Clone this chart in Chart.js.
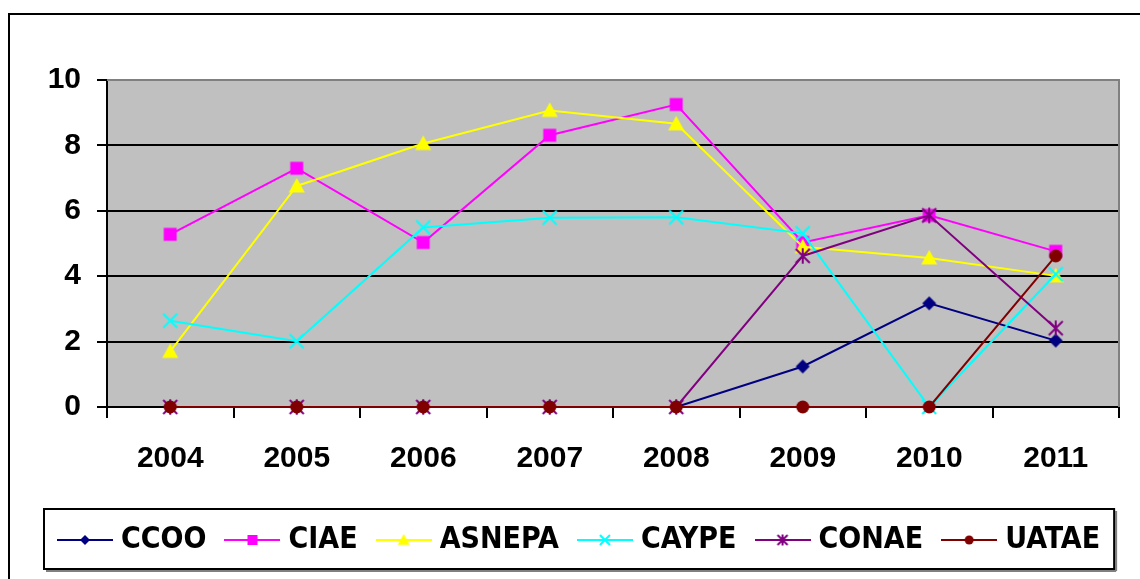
<!DOCTYPE html>
<html>
<head>
<meta charset="utf-8">
<script src="https://cdn.jsdelivr.net/npm/chart.js@4/dist/chart.umd.min.js"></script>
<style>
  html, body { margin: 0; padding: 0; background: #fff; }
  #wrap { position: relative; width: 1140px; height: 579px; }
</style>
</head>
<body>
<div id="wrap"><canvas id="chart"></canvas></div>
<script>
// datos
const years = ['2004', '2005', '2006', '2007', '2008', '2009', '2010', '2011'];
const ccoo = [0, 0, 0, 0, 0, 1.24, 3.17, 2.03];
const ciae = [5.28, 7.30, 5.03, 8.31, 9.25, 5.03, 5.86, 4.76];
const asnepa = [1.70, 6.76, 8.06, 9.07, 8.66, 4.90, 4.56, 4.01];
const caype = [2.64, 2.01, 5.49, 5.79, 5.80, 5.31, 0, 4.06];
const conae = [0, 0, 0, 0, 0, 4.62, 5.86, 2.41];
const uatae = [0, 0, 0, 0, 0, 0, 0, 4.62];
const yTicks = [0, 2, 4, 6, 8, 10];

const FONT = "'Liberation Sans', Arial, sans-serif";
const LEGEND_FONT = "'DejaVu Sans Condensed', 'DejaVu Sans', sans-serif";

// dibuja un marcador tipo Excel
function drawMarker(ctx, shape, cx, cy, r, color) {
  ctx.fillStyle = color;
  ctx.strokeStyle = color;
  ctx.lineWidth = 2;
  ctx.beginPath();
  switch (shape) {
    case 'diamond':
      ctx.moveTo(cx, cy - r); ctx.lineTo(cx + r, cy); ctx.lineTo(cx, cy + r); ctx.lineTo(cx - r, cy);
      ctx.closePath(); ctx.fill();
      break;
    case 'square':
      ctx.fillRect(cx - r, cy - r, 2 * r, 2 * r);
      break;
    case 'triangle':
      ctx.moveTo(cx, cy - r); ctx.lineTo(cx + r, cy + r * 0.8); ctx.lineTo(cx - r, cy + r * 0.8);
      ctx.closePath(); ctx.fill();
      break;
    case 'x':
      ctx.moveTo(cx - r, cy - r); ctx.lineTo(cx + r, cy + r);
      ctx.moveTo(cx + r, cy - r); ctx.lineTo(cx - r, cy + r);
      ctx.stroke();
      break;
    case 'asterisk':
      ctx.moveTo(cx - r, cy - r); ctx.lineTo(cx + r, cy + r);
      ctx.moveTo(cx + r, cy - r); ctx.lineTo(cx - r, cy + r);
      ctx.moveTo(cx, cy - r * 1.1); ctx.lineTo(cx, cy + r * 1.1);
      ctx.stroke();
      break;
    case 'circle':
      ctx.arc(cx, cy, r, 0, Math.PI * 2); ctx.fill();
      break;
  }
}

function markerImage(shape, color, r) {
  const c = document.createElement('canvas');
  c.width = 22; c.height = 22;
  drawMarker(c.getContext('2d'), shape, 11, 11, r, color);
  return c;
}

function legendImage(shape, color, r) {
  const c = document.createElement('canvas');
  c.width = 56; c.height = 20;
  const ctx = c.getContext('2d');
  ctx.strokeStyle = color;
  ctx.lineWidth = 2;
  ctx.beginPath(); ctx.moveTo(0, 10); ctx.lineTo(56, 10); ctx.stroke();
  drawMarker(ctx, shape, 28, 10, r, color);
  return c;
}

const series = [
  { label: 'CCOO', data: ccoo, color: '#000080', shape: 'diamond', r: 7, lr: 5 },
  { label: 'CIAE', data: ciae, color: '#FF00FF', shape: 'square', r: 6.5, lr: 5 },
  { label: 'ASNEPA', data: asnepa, color: '#FFFF00', shape: 'triangle', r: 8, lr: 6 },
  { label: 'CAYPE', data: caype, color: '#00FFFF', shape: 'x', r: 7, lr: 5 },
  { label: 'CONAE', data: conae, color: '#800080', shape: 'asterisk', r: 7, lr: 5 },
  { label: 'UATAE', data: uatae, color: '#800000', shape: 'circle', r: 6.5, lr: 4.5 }
];

const legendImgs = series.map(s => legendImage(s.shape, s.color, s.lr));

const datasets = series.map((s, i) => ({
  label: s.label,
  data: s.data,
  borderColor: s.color,
  backgroundColor: s.color,
  borderWidth: 2,
  pointStyle: markerImage(s.shape, s.color, s.r),
  pointRadius: 7,
  tension: 0,
  clip: false,
  order: series.length - i
}));

const LEGEND_PAD = 25;
const LEGEND_BOX = 42;
const LEGEND_SIZE = 30;
const LEGEND_FIRST_X = 64;

function legendRow(lg) {
  const start = (lg.left + LEGEND_PAD + lg.right - lg.lineWidths[0]) / 2;
  return { start: start, end: start + lg.lineWidths[0] - LEGEND_PAD };
}

const excelPlugin = {
  id: 'excelLook',
  afterLayout(chart) {
    const lg = chart.legend;
    const shift = LEGEND_FIRST_X - legendRow(lg).start;
    lg.left += shift;
    lg.right += shift;
  },
  beforeDraw(chart) {
    const { ctx, chartArea: a } = chart;
    ctx.save();
    ctx.fillStyle = '#C0C0C0';
    ctx.fillRect(a.left, a.top, a.right - a.left, a.bottom - a.top);
    ctx.restore();
  },
  beforeDatasetsDraw(chart) {
    const { ctx, chartArea: a } = chart;
    ctx.save();
    ctx.strokeStyle = '#808080';
    ctx.lineWidth = 2;
    ctx.beginPath();
    ctx.moveTo(a.left, a.top); ctx.lineTo(a.right, a.top); ctx.lineTo(a.right, a.bottom);
    ctx.stroke();
    ctx.restore();
  },
  afterDraw(chart) {
    const { ctx } = chart;
    const lg = chart.legend;
    ctx.save();
    // marco exterior
    ctx.fillStyle = '#000';
    ctx.fillRect(8, 13, chart.width - 8, 2);
    ctx.fillRect(8, 13, 2, chart.height - 13);
    // caja de la leyenda
    const row = legendRow(lg);
    const cy = lg.top + LEGEND_PAD + LEGEND_SIZE / 2;
    const x0 = row.start - 20, x1 = row.end + 14;
    const y0 = cy - 31, y1 = cy + 29;
    ctx.fillStyle = '#808080';
    ctx.fillRect(x0 + 2, y1 + 1, x1 - x0, 2);
    ctx.fillRect(x1 + 1, y0 + 2, 2, y1 - y0);
    ctx.strokeStyle = '#000';
    ctx.lineWidth = 2;
    ctx.strokeRect(x0, y0, x1 - x0, y1 - y0);
    ctx.restore();
  }
};

new Chart(document.getElementById('chart'), {
  type: 'line',
  data: { labels: years, datasets: datasets },
  plugins: [excelPlugin],
  options: {
    responsive: true,
    maintainAspectRatio: false,
    animation: false,
    layout: { padding: { top: 80, right: 21, left: 0, bottom: 14 } },
    plugins: {
      title: { display: false },
      tooltip: { enabled: false },
      legend: {
        position: 'bottom',
        labels: {
          usePointStyle: true,
          pointStyleWidth: LEGEND_BOX,
          padding: LEGEND_PAD,
          color: '#000',
          font: { family: LEGEND_FONT, size: LEGEND_SIZE, weight: 'bold' },
          generateLabels(chart) {
            const items = Chart.defaults.plugins.legend.labels.generateLabels(chart);
            items.forEach(it => { it.pointStyle = legendImgs[it.datasetIndex]; });
            return items.sort((a, b) => a.datasetIndex - b.datasetIndex);
          }
        }
      }
    },
    scales: {
      x: {
        offset: true,
        afterFit(scale) { scale.height = 93; },
        grid: {
          offset: true,
          drawOnChartArea: false,
          drawTicks: true,
          tickLength: 11,
          color: '#000',
          lineWidth: 2
        },
        border: { display: true, color: '#000', width: 2 },
        ticks: {
          color: '#000',
          padding: 23,
          maxRotation: 0,
          font: { family: FONT, size: 30, weight: 'bold' }
        }
      },
      y: {
        min: 0,
        max: 10,
        afterFit(scale) { scale.width = 107; },
        afterBuildTicks(scale) { scale.ticks = yTicks.map(v => ({ value: v })); },
        grid: {
          color: ctx => (ctx.tick && ctx.tick.value === 10 ? '#808080' : '#000'),
          tickColor: '#000',
          lineWidth: 2,
          tickLength: 10
        },
        border: { display: true, color: '#000', width: 2 },
        ticks: {
          color: '#000',
          padding: 16,
          font: { family: FONT, size: 30, weight: 'bold' }
        }
      }
    }
  }
});
</script>
</body>
</html>
